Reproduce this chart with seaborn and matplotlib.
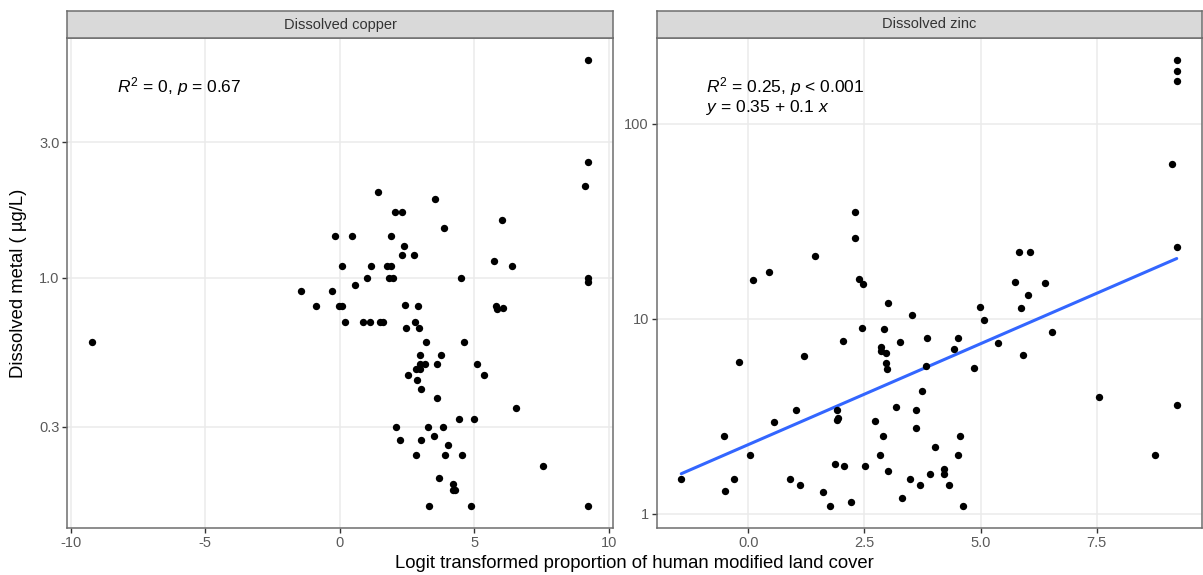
import numpy as np
import pandas as pd
import matplotlib
matplotlib.use("Agg")
import matplotlib.pyplot as plt
import seaborn as sns

sns.set_style("white")
plt.rcParams['font.family'] = ['Liberation Sans', 'DejaVu Sans']
plt.rcParams['mathtext.fontset'] = 'custom'
plt.rcParams['mathtext.rm'] = 'Liberation Sans'
plt.rcParams['mathtext.it'] = 'Liberation Sans:italic'

# ---------------- data ----------------
copper_x = [9.24, 9.24, 9.14, 1.43, 3.53, 2.04, 2.31, 6.03, -0.19, 0.45, 1.91, 3.86,
            2.39, 2.31, 2.75, 5.74, 6.41, 0.09, 1.18, 1.75, 1.92, 1.02, 1.84, 1.98,
            4.52, 9.24, 9.24, 0.57, -1.43, -0.29, -0.90, -0.01, 0.08, 2.44, 2.92, 5.80,
            5.86, 6.09, 0.20, 0.86, 1.13, 1.51, 1.62, 2.80, 2.48, 2.94, -9.22, 3.21,
            4.64, 2.98, 3.75, 2.98, 3.17, 3.62, 5.09, 2.84, 3.00, 2.55, 5.38, 2.89,
            3.01, 3.62, 6.55, 4.44, 4.99, 2.08, 3.28, 3.85, 3.49, 2.23, 3.02, 4.03,
            2.84, 3.93, 4.56, 7.56, 3.71, 4.22, 4.20, 4.30, 3.32, 4.87, 9.24]
copper_y = [5.83, 2.55, 2.10, 2.00, 1.90, 1.70, 1.70, 1.60, 1.40, 1.40, 1.40, 1.50,
            1.30, 1.20, 1.20, 1.15, 1.10, 1.10, 1.10, 1.10, 1.10, 1.00, 1.00, 1.00,
            1.00, 1.00, 0.97, 0.947, 0.898, 0.898, 0.798, 0.798, 0.798, 0.806, 0.798, 0.798,
            0.776, 0.787, 0.697, 0.697, 0.697, 0.697, 0.697, 0.697, 0.666, 0.666, 0.596, 0.596,
            0.596, 0.537, 0.537, 0.498, 0.498, 0.498, 0.498, 0.478, 0.478, 0.457, 0.457, 0.438,
            0.408, 0.378, 0.348, 0.318, 0.318, 0.298, 0.298, 0.298, 0.279, 0.268, 0.268, 0.258,
            0.238, 0.238, 0.238, 0.218, 0.198, 0.188, 0.179, 0.179, 0.158, 0.158, 0.158]

zinc_x = [9.22, 9.22, 9.22, 9.12, 2.30, 2.29, 5.82, 6.07, 9.22, 1.43, 0.45, 0.10,
          2.38, 2.48, 5.73, 6.39, 6.02, 3.00, 4.98, 5.87, 3.52, 5.08, 2.44, 2.93,
          6.54, 3.84, 4.51, 2.03, 3.27, 5.38, 2.86, 4.43, 2.85, 2.97, 5.92, 1.19,
          -0.19, 2.97, 2.99, 3.83, 4.85, 3.74, 7.55, 9.22, 3.17, 1.03, 1.91, 3.61,
          1.94, 1.91, 2.73, 0.56, 3.61, -0.53, 2.90, 4.55, 4.01, 0.04, 2.84, 4.51,
          8.76, 1.86, 2.07, 2.52, 3.00, 4.21, 3.92, 4.21, -1.44, -0.30, 0.91, 3.48,
          1.12, 3.70, 4.31, -0.50, 1.60, 3.30, 2.21, 1.77, 4.62]
zinc_y = [211, 186.6, 164.6, 62.2, 35.1, 26.0, 22.0, 22.0, 23.2, 21.0, 17.4, 15.8,
          16.0, 15.0, 15.5, 15.3, 13.2, 12.0, 11.5, 11.3, 10.5, 9.85, 8.93, 8.82,
          8.51, 7.96, 8.0, 7.66, 7.57, 7.51, 7.13, 7.0, 6.86, 6.68, 6.50, 6.40,
          6.01, 5.91, 5.55, 5.73, 5.60, 4.25, 3.95, 3.61, 3.51, 3.40, 3.40, 3.40,
          3.11, 3.01, 3.0, 2.95, 2.75, 2.50, 2.50, 2.50, 2.20, 2.00, 2.00, 2.00,
          2.00, 1.80, 1.75, 1.75, 1.65, 1.70, 1.60, 1.60, 1.50, 1.50, 1.50, 1.50,
          1.40, 1.40, 1.40, 1.31, 1.30, 1.20, 1.15, 1.10, 1.10]

panel_titles = ["Dissolved copper", "Dissolved zinc"]
copper_yticks = [0.3, 1.0, 3.0]
copper_ylabels = ["0.3", "1.0", "3.0"]
zinc_yticks = [1, 10, 100]
zinc_ylabels = ["1", "10", "100"]
copper_xticks = [-10, -5, 0, 5, 10]
zinc_xticks = [0.0, 2.5, 5.0, 7.5]
zinc_xlabels = ["0.0", "2.5", "5.0", "7.5"]
annot_copper = [r"$\it{R}^{2}$ = 0, $\it{p}$ = 0.67"]
annot_zinc = [r"$\it{R}^{2}$ = 0.25, $\it{p}$ < 0.001", r"$\it{y}$ = 0.35 + 0.1 $\it{x}$"]

df_cu = pd.DataFrame({"x": copper_x, "logy": np.log10(copper_y)})
df_zn = pd.DataFrame({"x": zinc_x, "logy": np.log10(zinc_y)})

# ---------------- figure ----------------
W, H = 1203, 575
fig = plt.figure(figsize=(W / 100, H / 100), dpi=100)

def frac(x0, y0, x1, y1):
    return [x0 / W, 1 - y1 / H, (x1 - x0) / W, (y1 - y0) / H]

ax1 = fig.add_axes(frac(67, 38, 613, 528))
ax2 = fig.add_axes(frac(656.5, 38, 1201.5, 528))
s1 = fig.add_axes(frac(67, 11, 613, 38))
s2 = fig.add_axes(frac(656.5, 11, 1201.5, 38))

border = "#6E6E6E"
gridc = "#EBEBEB"
tickc = "#5A5A5A"

sns.scatterplot(data=df_cu, x="x", y="logy", ax=ax1, color="black", s=28,
                linewidth=0, zorder=3)
sns.scatterplot(data=df_zn, x="x", y="logy", ax=ax2, color="black", s=28,
                linewidth=0, zorder=3)
sns.regplot(data=df_zn, x="x", y="logy", ax=ax2, ci=None, scatter=False,
            line_kws=dict(color="#3366FF", lw=2.2, zorder=2))

for ax in (ax1, ax2):
    ax.margins(x=0.05, y=0.05)
    ax.set_facecolor("white")
    for sp in ax.spines.values():
        sp.set_visible(True)
        sp.set_color(border)
        sp.set_linewidth(1.1)
    ax.grid(True, color=gridc, lw=1.1)
    ax.set_axisbelow(True)
    ax.set_xlabel("")
    ax.set_ylabel("")
    ax.tick_params(axis="both", which="major", length=3.5, width=1.0,
                   color="#333333", labelcolor=tickc, labelsize=10.5, pad=2,
                   direction="out", left=True, bottom=True)

ax1.set_xticks(copper_xticks)
ax1.set_xticklabels([str(t) for t in copper_xticks])
ax1.set_yticks(np.log10(copper_yticks))
ax1.set_yticklabels(copper_ylabels)
ax2.set_xticks(zinc_xticks)
ax2.set_xticklabels(zinc_xlabels)
ax2.set_yticks(np.log10(zinc_yticks))
ax2.set_yticklabels(zinc_ylabels)

for sax, title in zip((s1, s2), panel_titles):
    sax.set_facecolor("#D9D9D9")
    sax.set_xticks([])
    sax.set_yticks([])
    for sp in sax.spines.values():
        sp.set_visible(True)
        sp.set_color(border)
        sp.set_linewidth(1.1)
    sax.text(0.5, 0.5, title, ha="center", va="center", fontsize=10.5,
             color="#333333", transform=sax.transAxes)

ax1.text(0.091, 0.900, annot_copper[0], transform=ax1.transAxes,
         ha="left", va="center", fontsize=12.5, color="black")
ax2.text(0.09, 0.901, annot_zinc[0], transform=ax2.transAxes,
         ha="left", va="center", fontsize=12.5, color="black")
ax2.text(0.09, 0.858, annot_zinc[1], transform=ax2.transAxes,
         ha="left", va="center", fontsize=12.5, color="black")

fig.text(634 / W, 1 - 564 / H, "Logit transformed proportion of human modified land cover",
         ha="center", va="center", fontsize=13.3, color="black")
fig.text(19 / W, 1 - 283 / H, "Dissolved metal ( µg/L)", rotation=90,
         ha="center", va="center", fontsize=13.3, color="black")

fig.savefig("out.png", dpi=100)
